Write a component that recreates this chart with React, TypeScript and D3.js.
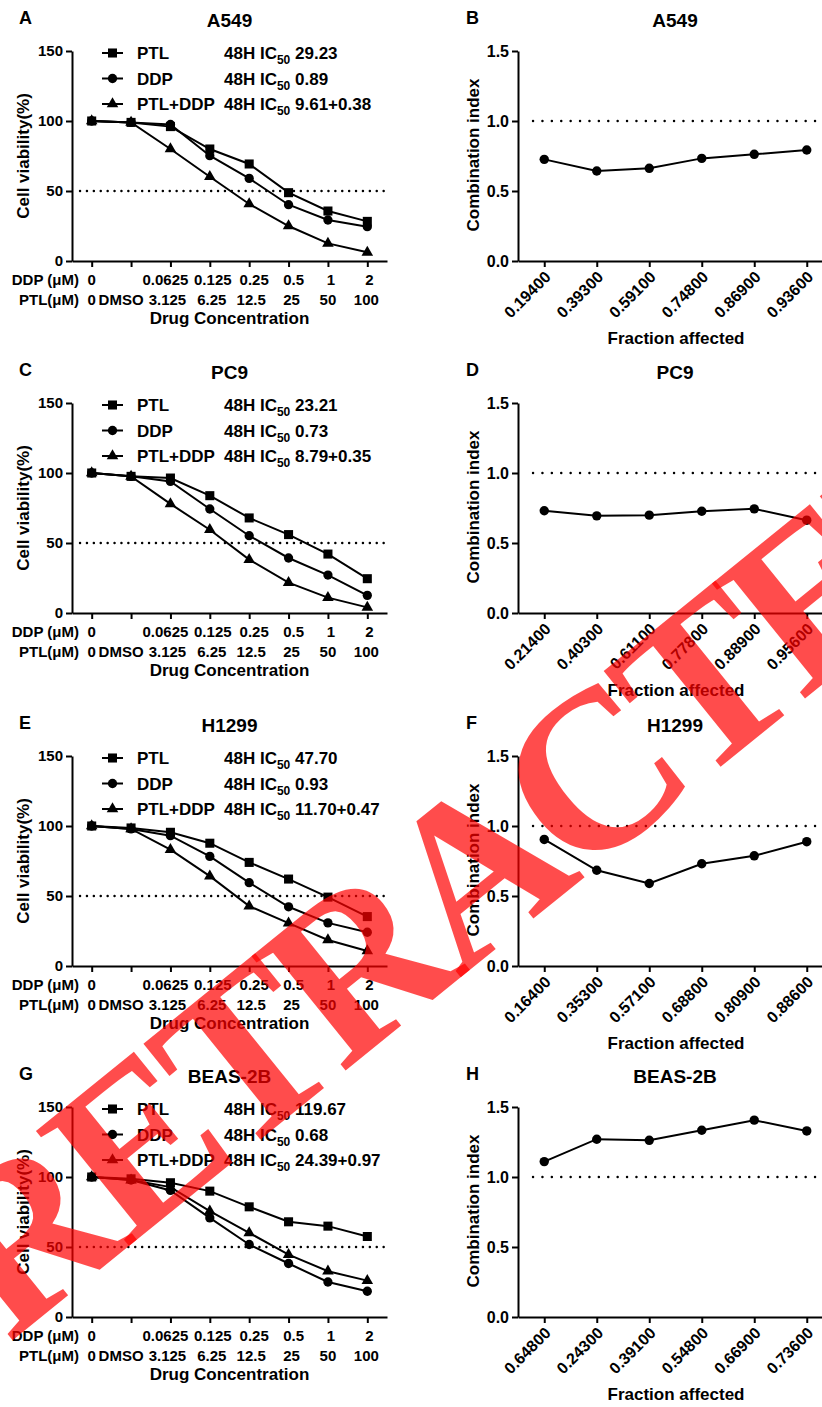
import React, { useRef, useEffect } from "react";
import * as d3 from "d3";

// x-axis categories of the viability plots
const ddpDoses = ["0", "", "0.0625", "0.125", "0.25", "0.5", "1", "2"];
const ptlDoses = ["0", "DMSO", "3.125", "6.25", "12.5", "25", "50", "100"];
const seriesNames = ["PTL", "DDP", "PTL+DDP"];
const cellLines = ["A549", "PC9", "H1299", "BEAS-2B"];
const leftLetters = ["A", "C", "E", "G"];
const rightLetters = ["B", "D", "F", "H"];

// cell viability (%)
const a549PTL = [100, 99, 96, 80, 69.3, 48.8, 35.7, 28.3];
const a549DDP = [100, 99, 97.5, 75.2, 59, 40.2, 29.3, 24.5];
const a549Combo = [100, 99, 80, 60.2, 40.7, 25, 12.6, 6.2];
const pc9PTL = [100, 97.6, 96.4, 83.8, 67.9, 56, 42.1, 24.5];
const pc9DDP = [100, 97.6, 94, 74.3, 55.2, 39.3, 27.1, 12.6];
const pc9Combo = [100, 97.6, 77.9, 59.5, 38.1, 21.7, 11, 4];
const h1299PTL = [100, 98.6, 95.5, 87.7, 74, 62.1, 49.2, 35.3];
const h1299DDP = [100, 97.9, 93.1, 78.3, 59.5, 42.3, 30.8, 24.1];
const h1299Combo = [100, 97.9, 83.1, 64.2, 42.8, 30.6, 18.6, 10.7];
const beasPTL = [100, 98.7, 95.9, 89.9, 78.7, 68, 64.9, 57.5];
const beasDDP = [100, 97.8, 90.4, 70.8, 51.8, 38.2, 25, 18.4];
const beasCombo = [100, 97.8, 92.8, 75.6, 60.1, 44.6, 32.7, 26];

// 48H IC50 legend values
const ic50A549 = ["29.23", "0.89", "9.61+0.38"];
const ic50PC9 = ["23.21", "0.73", "8.79+0.35"];
const ic50H1299 = ["47.70", "0.93", "11.70+0.47"];
const ic50Beas = ["119.67", "0.68", "24.39+0.97"];

// fraction affected / combination index
const faA549 = ["0.19400", "0.39300", "0.59100", "0.74800", "0.86900", "0.93600"];
const ciA549 = [0.726, 0.643, 0.662, 0.733, 0.762, 0.793];
const faPC9 = ["0.21400", "0.40300", "0.61100", "0.77800", "0.88900", "0.95600"];
const ciPC9 = [0.73, 0.694, 0.699, 0.727, 0.744, 0.663];
const faH1299 = ["0.16400", "0.35300", "0.57100", "0.68800", "0.80900", "0.88600"];
const ciH1299 = [0.904, 0.684, 0.589, 0.73, 0.787, 0.888];
const faBeas = ["0.64800", "0.24300", "0.39100", "0.54800", "0.66900", "0.73600"];
const ciBeas = [1.11, 1.27, 1.262, 1.334, 1.406, 1.329];

const viability = [
  [a549PTL, a549DDP, a549Combo],
  [pc9PTL, pc9DDP, pc9Combo],
  [h1299PTL, h1299DDP, h1299Combo],
  [beasPTL, beasDDP, beasCombo],
];
const ic50 = [ic50A549, ic50PC9, ic50H1299, ic50Beas];
const fractions = [faA549, faPC9, faH1299, faBeas];
const combIndex = [ciA549, ciPC9, ciH1299, ciBeas];

const FONT = "'Liberation Sans', Arial, sans-serif";
const rowTop = [0, 352, 705, 1056];
const symbols = [d3.symbolSquare, d3.symbolCircle, d3.symbolTriangle];
const symSize = [82, 68, 58];
// GraphPad nudges the dose labels a little off their ticks
const ddpNudge = [0, 0, -5, 3, 5, 5, 3, 2];
const ptlNudge = [0, -10, -3, 2, 2, 3, 0, -1];

function styleAxis(g, size) {
  g.attr("font-family", FONT).attr("font-size", size).attr("font-weight", "bold");
  g.selectAll("path, line").attr("stroke", "#000").attr("stroke-width", 2);
  g.selectAll("text").attr("fill", "#000");
}

function drawViability(g, i) {
  const x = d3.scalePoint().domain(d3.range(8)).range([72, 387]).padding(0.5);
  const y = d3.scaleLinear().domain([0, 150]).range([261, 51]);

  // dotted 50% line
  g.append("line")
    .attr("x1", 80).attr("x2", 386)
    .attr("y1", y(50)).attr("y2", y(50))
    .attr("stroke", "#000").attr("stroke-width", 2.4)
    .attr("stroke-linecap", "round")
    .attr("stroke-dasharray", "0.1 6.8");

  const yAxis = d3.axisLeft(y).tickValues([0, 50, 100, 150]).tickSize(6).tickSizeOuter(0).tickPadding(3);
  g.append("g").attr("transform", "translate(72,0)").call(yAxis).call(styleAxis, 15);

  const xAxis = d3.axisBottom(x).tickSize(6).tickSizeOuter(0).tickFormat(() => "");
  g.append("g").attr("transform", "translate(0,261)").call(xAxis).call(styleAxis, 15);

  // dose label rows
  const rows = [ddpDoses, ptlDoses];
  const nudges = [ddpNudge, ptlNudge];
  rows.forEach((labels, r) => {
    g.append("g")
      .selectAll("text")
      .data(labels)
      .join("text")
      .attr("x", (d, k) => x(k) + nudges[r][k])
      .attr("y", 285 + r * 20)
      .attr("text-anchor", "middle")
      .attr("font-size", 15)
      .text((d) => d);
  });
  g.append("text").attr("x", 79).attr("y", 285).attr("text-anchor", "end").attr("font-size", 15).text("DDP (μM)");
  g.append("text").attr("x", 79).attr("y", 305).attr("text-anchor", "end").attr("font-size", 15).text("PTL(μM)");
  g.append("text").attr("x", 229.5).attr("y", 324).attr("text-anchor", "middle").attr("font-size", 17).text("Drug Concentration");

  g.append("text")
    .attr("transform", "translate(29,156) rotate(-90)")
    .attr("text-anchor", "middle").attr("font-size", 17)
    .text("Cell viability(%)");

  g.append("text").attr("x", 229.5).attr("y", 27).attr("text-anchor", "middle").attr("font-size", 19).text(cellLines[i]);
  g.append("text").attr("x", 19).attr("y", 24).attr("font-size", 18).text(leftLetters[i]);

  const line = d3.line().x((d, k) => x(k)).y((d) => y(d));
  viability[i].forEach((vals, s) => {
    g.append("path").attr("d", line(vals)).attr("fill", "none").attr("stroke", "#000").attr("stroke-width", 2);
    g.append("g")
      .selectAll("path")
      .data(vals)
      .join("path")
      .attr("transform", (d, k) => `translate(${x(k)},${y(d)})`)
      .attr("d", d3.symbol(symbols[s], symSize[s]))
      .attr("fill", "#000");
  });

  // legend
  seriesNames.forEach((name, s) => {
    const cy = 53 + s * 25.5;
    const lg = g.append("g");
    lg.append("line").attr("x1", 102).attr("x2", 123).attr("y1", cy).attr("y2", cy).attr("stroke", "#000").attr("stroke-width", 2);
    lg.append("path").attr("transform", `translate(112.5,${cy})`).attr("d", d3.symbol(symbols[s], symSize[s])()).attr("fill", "#000");
    lg.append("text").attr("x", 137).attr("y", cy + 6).attr("font-size", 17).text(name);
    const t = lg.append("text").attr("x", 224).attr("y", cy + 6).attr("font-size", 17);
    t.append("tspan").text("48H IC");
    t.append("tspan").attr("dy", 5).attr("font-size", 12).text("50");
    t.append("tspan").attr("dy", -5).text(" " + ic50[i][s]);
  });
}

function drawCombination(g, i) {
  const x = d3.scalePoint().domain(d3.range(6)).range([518, 833]).padding(0.5);
  const y = d3.scaleLinear().domain([0, 1.5]).range([261, 51]);

  g.append("line")
    .attr("x1", 533).attr("x2", 830)
    .attr("y1", y(1)).attr("y2", y(1))
    .attr("stroke", "#000").attr("stroke-width", 2.4)
    .attr("stroke-linecap", "round")
    .attr("stroke-dasharray", "0.1 9.3");

  const yAxis = d3.axisLeft(y).tickValues([0, 0.5, 1, 1.5]).tickFormat(d3.format(".1f")).tickSize(6).tickSizeOuter(0).tickPadding(3);
  g.append("g").attr("transform", "translate(518,0)").call(yAxis).call(styleAxis, 16);

  const xAxis = d3.axisBottom(x).tickSize(6).tickSizeOuter(0).tickFormat((k) => fractions[i][k]);
  const xg = g.append("g").attr("transform", "translate(0,261)").call(xAxis).call(styleAxis, 16);
  xg.selectAll(".tick text")
    .attr("x", 0).attr("y", 0).attr("dy", 0)
    .attr("text-anchor", "end")
    .attr("transform", "translate(7,17) rotate(-45)");

  g.append("text").attr("x", 676).attr("y", 344).attr("text-anchor", "middle").attr("font-size", 17).text("Fraction affected");
  g.append("text")
    .attr("transform", "translate(479,155) rotate(-90)")
    .attr("text-anchor", "middle").attr("font-size", 17)
    .text("Combination index");
  g.append("text").attr("x", 675).attr("y", 27).attr("text-anchor", "middle").attr("font-size", 19).text(cellLines[i]);
  g.append("text").attr("x", 466).attr("y", 24).attr("font-size", 18).text(rightLetters[i]);

  const line = d3.line().x((d, k) => x(k)).y((d) => y(d));
  g.append("path").attr("d", line(combIndex[i])).attr("fill", "none").attr("stroke", "#000").attr("stroke-width", 2);
  g.append("g")
    .selectAll("circle")
    .data(combIndex[i])
    .join("circle")
    .attr("cx", (d, k) => x(k))
    .attr("cy", (d) => y(d))
    .attr("r", 4.7)
    .attr("fill", "#000");
}

export default function App() {
  const svgRef = useRef(null);

  useEffect(() => {
    const svg = d3.select(svgRef.current);
    svg.selectAll("*").remove();

    cellLines.forEach((c, i) => {
      drawViability(svg.append("g").attr("transform", `translate(0,${rowTop[i]})`), i);
      drawCombination(svg.append("g").attr("transform", `translate(0,${rowTop[i]})`), i);
    });

    // retraction stamp
    svg.append("text")
      .attr("transform", "translate(470,872) rotate(-39)")
      .attr("text-anchor", "middle")
      .attr("dominant-baseline", "central")
      .attr("font-family", "'Liberation Serif', 'Times New Roman', serif")
      .attr("font-weight", "bold")
      .attr("font-size", 226)
      .attr("letter-spacing", -12)
      .attr("fill", "#ff0000")
      .attr("fill-opacity", 0.7)
      .text("RETRACTED");
  }, []);

  return (
    <svg
      ref={svgRef}
      width={822}
      height={1407}
      style={{ position: "absolute", left: 0, top: 0, background: "#fff" }}
      fontFamily={FONT}
      fontWeight="bold"
    />
  );
}
